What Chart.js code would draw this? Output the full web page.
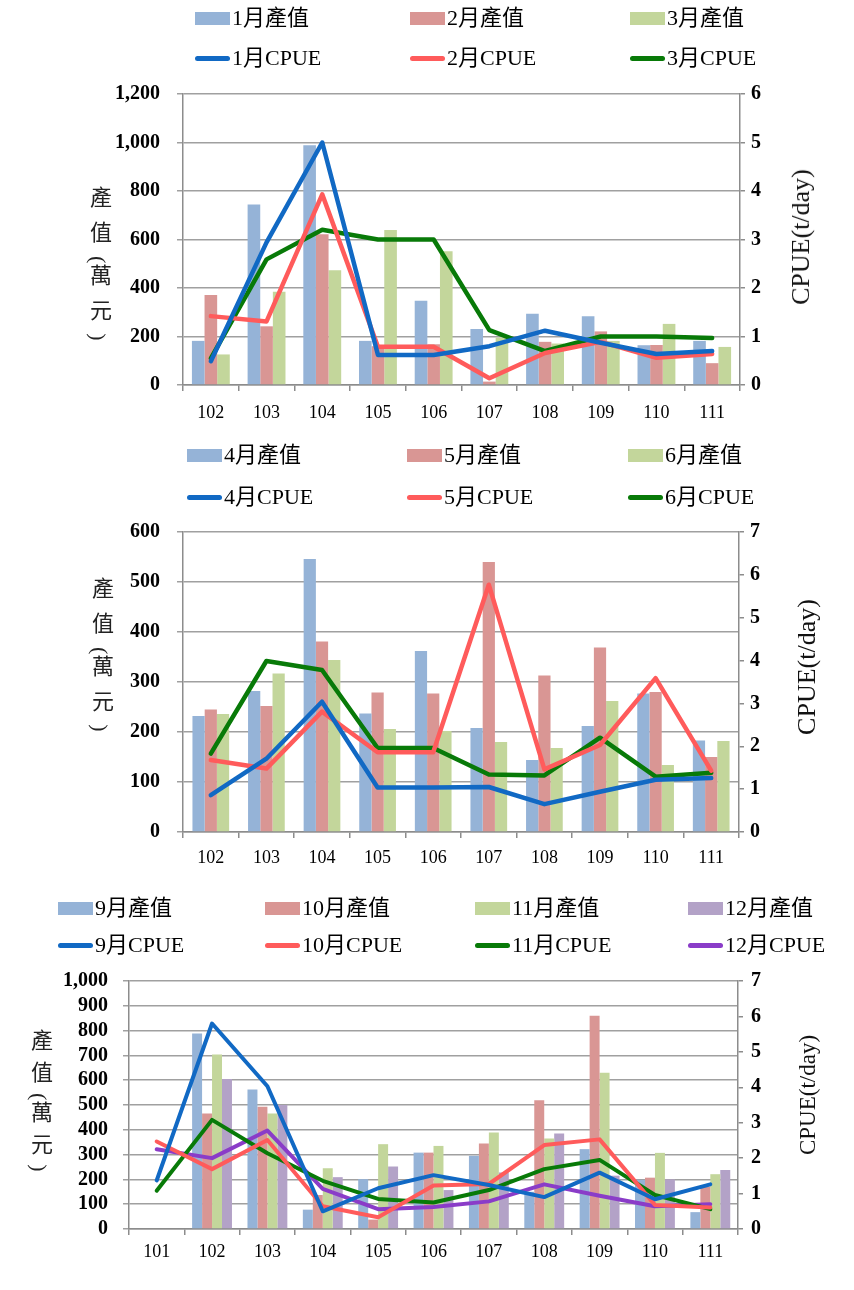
<!DOCTYPE html>
<html>
<head>
<meta charset="utf-8">
<script src="https://cdn.jsdelivr.net/npm/chart.js@4.4.1/dist/chart.umd.min.js"></script>
<style>
body{margin:0;background:#fff;width:854px;height:1290px;position:relative;overflow:hidden;font-family:"Liberation Serif","Noto Sans CJK TC",serif;}
canvas{position:absolute;left:0;}
.lg{position:absolute;font-size:22px;line-height:24px;height:24px;white-space:nowrap;display:flex;align-items:center;color:#000;}
.sw{display:inline-block;width:35px;margin-right:2px;}
.ytitle{position:absolute;writing-mode:vertical-rl;font-size:22px;line-height:22px;font-family:"Liberation Serif","Noto Sans CJK TC",serif;color:#222;}
.ytitle .p{letter-spacing:0;}
.rtitle{position:absolute;transform:translate(-50%,-50%) rotate(-90deg);white-space:nowrap;color:#111;}
</style>
</head>
<body>
<canvas id="c1" width="854" height="425" style="top:0"></canvas>
<canvas id="c2" width="854" height="447" style="top:425px"></canvas>
<canvas id="c3" width="854" height="397" style="top:872px"></canvas>
<script>
// panel 1: Jan-Mar
const years1 = ['102','103','104','105','106','107','108','109','110','111'];
const val1 = [182, 744, 989, 182, 347, 231, 294, 284, 164, 182];
const val2 = [371, 242, 622, 160, 168, 14, 178, 221, 165, 90];
const val3 = [126, 385, 473, 639, 552, 196, 171, 182, 252, 157];
const cpue1 = [0.49, 2.94, 5.0, 0.62, 0.62, 0.8, 1.12, 0.87, 0.64, 0.7];
const cpue2 = [1.42, 1.31, 3.93, 0.79, 0.79, 0.14, 0.66, 0.89, 0.56, 0.64];
const cpue3 = [0.55, 2.59, 3.2, 3.0, 3.0, 1.13, 0.7, 1.0, 1.0, 0.97];

// panel 2: Apr-Jun
const years2 = ['102','103','104','105','106','107','108','109','110','111'];
const val4 = [232, 282, 546, 237, 362, 208, 144, 212, 277, 183];
const val5 = [245, 252, 381, 279, 277, 540, 313, 369, 280, 150];
const val6 = [236, 317, 344, 206, 202, 180, 168, 262, 134, 182];
const cpue4 = [0.86, 1.71, 3.04, 1.04, 1.04, 1.05, 0.65, 0.94, 1.22, 1.26];
const cpue5 = [1.68, 1.48, 2.81, 1.86, 1.86, 5.77, 1.46, 2.03, 3.59, 1.43];
const cpue6 = [1.83, 3.99, 3.78, 1.96, 1.96, 1.34, 1.32, 2.2, 1.29, 1.38];

// panel 3: Sep-Dec
const years3 = ['101','102','103','104','105','106','107','108','109','110','111'];
const val9 = [null, 788, 563, 78, 201, 308, 295, 150, 322, 198, 68];
const val10 = [null, 466, 493, 137, 38, 308, 345, 519, 860, 207, 171];
const val11 = [null, 704, 466, 245, 342, 335, 389, 365, 630, 307, 221];
const val12 = [null, 605, 500, 209, 252, 157, 228, 385, 215, 200, 238];
const cpue9 = [1.37, 5.8, 4.03, 0.5, 1.15, 1.52, 1.24, 0.9, 1.59, 0.84, 1.26];
const cpue10 = [2.47, 1.69, 2.51, 0.64, 0.33, 1.23, 1.27, 2.37, 2.53, 0.68, 0.61];
const cpue11 = [1.08, 3.08, 2.14, 1.36, 0.85, 0.75, 1.1, 1.69, 1.95, 0.96, 0.56];
const cpue12 = [2.25, 2.0, 2.78, 1.13, 0.56, 0.62, 0.78, 1.26, 0.94, 0.64, 0.7];

const barColors = ['#95B3D7', '#D99694', '#C3D69B', '#B3A2C7'];
const lineColors = ['#1169C4', '#FF5B5B', '#087A08', '#8A3CC8'];

function build(id, labels, bars, lines, o) {
  const datasets = [];
  lines.forEach((d, i) => datasets.push({
    type: 'line', label: d[0], data: d[1], yAxisID: 'y1',
    borderColor: lineColors[i], borderWidth: o.lineW, pointRadius: 0,
    tension: 0, order: 1, borderJoinStyle: 'round', borderCapStyle: 'round'
  }));
  bars.forEach((d, i) => datasets.push({
    type: 'bar', label: d[0], data: d[1], yAxisID: 'y',
    backgroundColor: barColors[i], order: 2,
    categoryPercentage: o.cat, barPercentage: 1
  }));
  const tickFont = {family: 'Liberation Serif', size: o.tick, weight: 'bold'};
  new Chart(document.getElementById(id), {
    type: 'bar',
    data: {labels: labels, datasets: datasets},
    options: {
      responsive: false,
      animation: false,
      layout: {padding: {top: o.top, left: 0, right: 0, bottom: 0}},
      plugins: {legend: {display: false}, tooltip: {enabled: false}},
      scales: {
        x: {
          grid: {display: true, drawOnChartArea: false, offset: true, tickLength: 6, color: '#8c8c8c', lineWidth: 1.5},
          border: {color: '#8c8c8c', width: 1.5},
          ticks: {font: {family: 'Liberation Serif', size: 18}, color: '#000', padding: o.xpad, autoSkip: false, maxRotation: 0},
          afterFit: s => { s.height = 40; }
        },
        y: {
          position: 'left', min: 0, max: o.ymax,
          ticks: {stepSize: o.ystep, autoSkip: false, font: tickFont, color: '#000', padding: o.lpad,
                  callback: v => v.toLocaleString('en-US')},
          grid: {color: '#a0a0a0', lineWidth: 1.5, tickLength: 6},
          border: {color: '#8c8c8c', width: 1.5},
          afterFit: s => { s.width = o.leftW; }
        },
        y1: {
          position: 'right', min: 0, max: o.rmax,
          ticks: {stepSize: 1, autoSkip: false, font: tickFont, color: '#000', padding: o.rpad},
          grid: {drawOnChartArea: false, color: '#8c8c8c', lineWidth: 1.5, tickLength: 5},
          border: {color: '#8c8c8c', width: 1.5},
          afterFit: s => { s.width = o.rightW; }
        }
      }
    }
  });
}

function legend(bars, lines, xs, y1, y2) {
  bars.forEach((n, i) => {
    const d = document.createElement('div');
    d.className = 'lg';
    d.style.left = xs[i] + 'px';
    d.style.top = (y1 - 12) + 'px';
    d.innerHTML = '<span class="sw" style="height:13px;background:' + barColors[i] + '"></span>' + n;
    document.body.appendChild(d);
  });
  lines.forEach((n, i) => {
    const d = document.createElement('div');
    d.className = 'lg';
    d.style.left = xs[i] + 'px';
    d.style.top = (y2 - 12) + 'px';
    d.innerHTML = '<span class="sw" style="height:5px;border-radius:3px;background:' + lineColors[i] + '"></span>' + n;
    document.body.appendChild(d);
  });
}

function titles(lx, ltop, spacing, rx, ry, rsize) {
  const l = document.createElement('div');
  l.className = 'ytitle';
  l.style.left = (lx - 11) + 'px';
  l.style.top = ltop + 'px';
  l.style.letterSpacing = spacing + 'px';
  l.innerHTML = '產值<span class="p">(</span>萬元<span class="p">)</span>';
  document.body.appendChild(l);
  const r = document.createElement('div');
  r.className = 'rtitle';
  r.style.left = rx + 'px';
  r.style.top = ry + 'px';
  r.style.fontSize = rsize + 'px';
  r.textContent = 'CPUE(t/day)';
  document.body.appendChild(r);
}

build('c1', years1,
  [['1月產值', val1], ['2月產值', val2], ['3月產值', val3]],
  [['1月CPUE', cpue1], ['2月CPUE', cpue2], ['3月CPUE', cpue3]],
  {top: 94, ymax: 1200, ystep: 200, rmax: 6, leftW: 183, rightW: 114,
   lpad: 17, rpad: 6, xpad: 11, cat: 0.68, lineW: 4.5, tick: 20});
build('c2', years2,
  [['4月產值', val4], ['5月產值', val5], ['6月產值', val6]],
  [['4月CPUE', cpue4], ['5月CPUE', cpue5], ['6月CPUE', cpue6]],
  {top: 107, ymax: 600, ystep: 100, rmax: 7, leftW: 183, rightW: 115,
   lpad: 17, rpad: 6, xpad: 9, cat: 0.66, lineW: 4.5, tick: 20});
build('c3', years3,
  [['9月產值', val9], ['10月產值', val10], ['11月產值', val11], ['12月產值', val12]],
  [['9月CPUE', cpue9], ['10月CPUE', cpue10], ['11月CPUE', cpue11], ['12月CPUE', cpue12]],
  {top: 109, ymax: 1000, ystep: 100, rmax: 7, leftW: 129, rightW: 116,
   lpad: 15, rpad: 8, xpad: 6, cat: 0.72, lineW: 4, tick: 20});

legend(['1月產值', '2月產值', '3月產值'], ['1月CPUE', '2月CPUE', '3月CPUE'], [195, 410, 630], 18, 58);
legend(['4月產值', '5月產值', '6月產值'], ['4月CPUE', '5月CPUE', '6月CPUE'], [187, 407, 628], 455, 497);
legend(['9月產值', '10月產值', '11月產值', '12月產值'], ['9月CPUE', '10月CPUE', '11月CPUE', '12月CPUE'], [58, 265, 475, 688], 908, 945);

titles(98, 186, 13, 801, 237, 26);
titles(100, 577, 13, 807, 667, 26);
titles(39, 1029, 10, 808, 1095, 23);
</script>
</body>
</html>
